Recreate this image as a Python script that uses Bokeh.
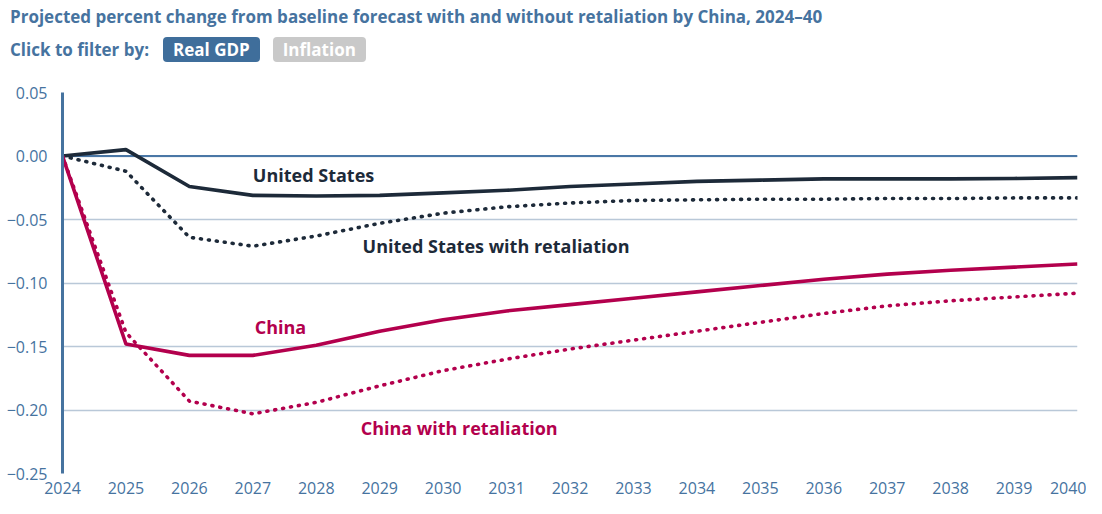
from bokeh.plotting import figure
from bokeh.layouts import column
from bokeh.models import Label, FixedTicker, Range1d, Span, Div
from bokeh.embed import file_html
from bokeh.resources import INLINE

# ---- data ----
years = list(range(2024, 2041))
us = [0, 0.005, -0.024, -0.031, -0.0315, -0.031, -0.029, -0.027, -0.024, -0.022,
      -0.020, -0.019, -0.018, -0.018, -0.018, -0.0177, -0.017]
us_ret = [0, -0.012, -0.064, -0.071, -0.063, -0.053, -0.045, -0.040, -0.037, -0.035,
          -0.0345, -0.034, -0.034, -0.0335, -0.0335, -0.033, -0.033]
china = [0, -0.148, -0.157, -0.157, -0.149, -0.138, -0.129, -0.122, -0.117, -0.112,
         -0.107, -0.102, -0.097, -0.093, -0.090, -0.0875, -0.085]
china_ret = [0, -0.139, -0.193, -0.203, -0.194, -0.181, -0.169, -0.160, -0.152, -0.145,
             -0.138, -0.131, -0.124, -0.118, -0.114, -0.111, -0.108]

y_ticks = [0.05, 0.0, -0.05, -0.10, -0.15, -0.20, -0.25]
y_tick_labels = ["0.05", "0.00", "\u22120.05", "\u22120.10", "\u22120.15", "\u22120.20", "\u22120.25"]
x_ticks = years
x_tick_labels = [str(y) for y in years]

title_text = "Projected percent change from baseline forecast with and without retaliation by China, 2024\u201340"
filter_text = "Click to filter by:"
btn_labels = ["Real GDP", "Inflation"]

series_labels = ["United States", "United States with retaliation", "China", "China with retaliation"]
label_pos_x = [2027.0, 2028.73, 2027.03, 2028.7]
label_pos_y = [-0.015, -0.0705, -0.135, -0.214]

# ---- style ----
NAVY = "#1d2a39"
CRIMSON = "#b3004d"
BLUE = "#46739f"
GRID = "#b9c8d8"
FONT = "Open Sans"

W = 1086
HH = 78
MH = 420

header_html = (
    f'<div style="font-family:\'{FONT}\',sans-serif;font-weight:700;color:{BLUE};'
    f'font-size:17px;line-height:23px;white-space:nowrap;">'
    f'<div style="padding:5px 0 0 10px;">{title_text}</div>'
    f'<div style="margin-top:9px;padding-left:10px;display:flex;align-items:center;">'
    f'<span>{filter_text}</span>'
    f'<span style="margin-left:14px;background:#3f6e9b;color:#fff;border-radius:4px;padding:1px 10px;">{btn_labels[0]}</span>'
    f'<span style="margin-left:13px;background:#c9c9c9;color:#fff;border-radius:4px;padding:1px 10px;">{btn_labels[1]}</span>'
    f'</div></div>'
)
hdr = Div(text=header_html, width=W, height=HH, margin=0)

p = figure(width=W, height=MH, output_backend="svg", toolbar_location=None,
           x_range=Range1d(2024, 2040), y_range=Range1d(-0.25, 0.05),
           min_border_left=62, min_border_right=9, min_border_top=14, min_border_bottom=25)
p.outline_line_color = None

p.xgrid.grid_line_color = None
p.ygrid.grid_line_color = GRID
p.ygrid.grid_line_width = 1.3
p.yaxis.ticker = FixedTicker(ticks=y_ticks)
p.xaxis.ticker = FixedTicker(ticks=x_ticks)
p.yaxis.major_label_overrides = {t: l for t, l in zip(y_ticks, y_tick_labels)}
p.xaxis.major_label_overrides = {t: l for t, l in zip(x_ticks, x_tick_labels)}

for ax in (p.xaxis[0], p.yaxis[0]):
    ax.major_tick_line_color = None
    ax.minor_tick_line_color = None
    ax.major_label_text_font = FONT
    ax.major_label_text_font_size = "16px"
    ax.major_label_text_color = BLUE
p.xaxis.axis_line_color = None
p.xaxis.major_label_standoff = 2
p.yaxis.axis_line_color = BLUE
p.yaxis.axis_line_width = 3
p.yaxis.major_label_standoff = 9

zero = Span(location=0, dimension="width", line_color="#4a77a6", line_width=2.2, level="underlay")
p.add_layout(zero)

p.line(years, us, line_color=NAVY, line_width=3.6, line_join="round")
p.line(years, us_ret, line_color=NAVY, line_width=3.6, line_dash="1 7", line_cap="round")
p.line(years, china, line_color=CRIMSON, line_width=3.6, line_join="round")
p.line(years, china_ret, line_color=CRIMSON, line_width=3.6, line_dash="1 7", line_cap="round")

colors = [NAVY, NAVY, CRIMSON, CRIMSON]
for t, x, y, c in zip(series_labels, label_pos_x, label_pos_y, colors):
    p.add_layout(Label(x=x, y=y, text=t, text_color=c, text_font=FONT,
                       text_font_style="bold", text_font_size="18px", text_baseline="middle"))

layout = column(hdr, p, spacing=0)
open("out.html", "w").write(file_html(layout, INLINE))
